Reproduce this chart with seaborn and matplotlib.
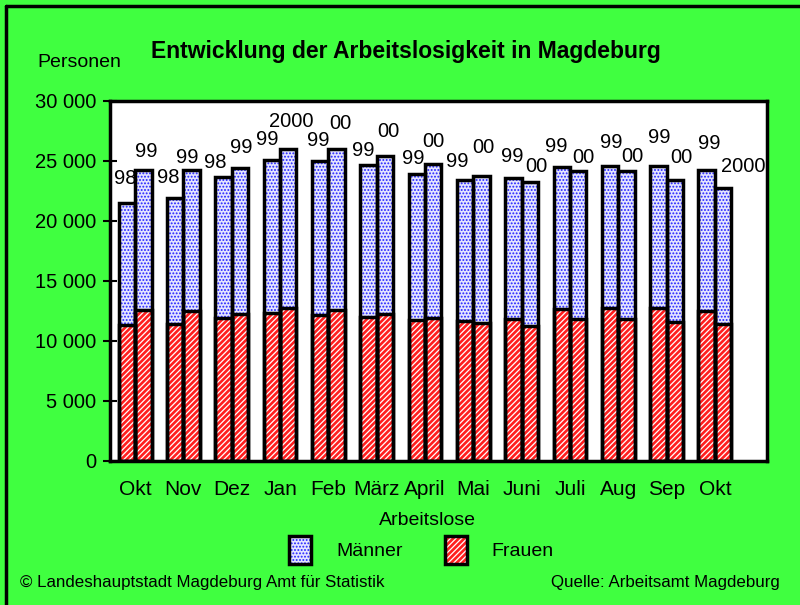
import pandas as pd
import seaborn as sns
import matplotlib.pyplot as plt
from matplotlib.patches import Patch, Rectangle
from matplotlib.lines import Line2D
from matplotlib.ticker import FuncFormatter, FixedLocator

# data (persons), two bars per month: previous year / current year
months = ['Okt', 'Nov', 'Dez', 'Jan', 'Feb', 'März', 'April', 'Mai', 'Juni', 'Juli', 'Aug', 'Sep', 'Okt']
year_a = ['98', '98', '98', '99', '99', '99', '99', '99', '99', '99', '99', '99', '99']
year_b = ['99', '99', '99', '2000', '00', '00', '00', '00', '00', '00', '00', '00', '2000']
frauen_a = [11300, 11380, 11880, 12270, 12130, 11990, 11710, 11630, 11790, 12600, 12730, 12760, 12490]
frauen_b = [12540, 12460, 12210, 12710, 12570, 12210, 11850, 11440, 11240, 11790, 11770, 11570, 11350]
maenner_a = [10200, 10520, 11720, 12780, 12820, 12660, 12190, 11720, 11760, 11850, 11820, 11790, 11710]
maenner_b = [11710, 11790, 12140, 13290, 13430, 13140, 12850, 12260, 11960, 12360, 12380, 11830, 11400]

# where the year labels sit relative to their bar top (pixels: right, up)
label_off_a = [(-2, 19), (-7, 15), (-8, 9), (-5, 15), (-2, 15), (-5, 9), (-4, 10),
               (-8, 13), (-1, 16), (-5, 15), (1, 18), (1, 23), (3, 21)]
label_off_b = [(3, 13), (-4, 7), (1, 15), (3, 22), (4, 20), (3, 19), (0, 17),
               (2, 23), (7, 10), (5, 8), (6, 9), (7, 17), (20, 16)]

green = '#40ff40'
blue_face = '#e4e4ff'
red_face = '#ff1f1f'

n = len(months)
df = pd.DataFrame({
    'idx': list(range(n)) * 2,
    'pos': ['a'] * n + ['b'] * n,
    'Frauen': frauen_a + frauen_b,
    'Maenner': maenner_a + maenner_b,
})
df['Gesamt'] = df['Frauen'] + df['Maenner']

sns.set_style('white')
plt.rcParams['font.family'] = ['Liberation Sans', 'DejaVu Sans']
plt.rcParams['text.color'] = 'black'
plt.rcParams['xtick.color'] = 'black'
plt.rcParams['ytick.color'] = 'black'
plt.rcParams['hatch.linewidth'] = 0.9

fig = plt.figure(figsize=(8, 6.05), dpi=100, facecolor=green)
ax = fig.add_axes([0.1375, 0.2385, 0.8213, 0.5951])
ax.set_facecolor('white')

# total bars (Männer on top of Frauen)
sns.barplot(data=df, x='idx', y='Gesamt', hue='pos', dodge=True, width=0.68, gap=0,
            palette={'a': blue_face, 'b': blue_face}, legend=False, ax=ax, saturation=1)
n_tot = len(ax.containers)
sns.barplot(data=df, x='idx', y='Frauen', hue='pos', dodge=True, width=0.68, gap=0,
            palette={'a': red_face, 'b': red_face}, legend=False, ax=ax, saturation=1)

for i, cont in enumerate(ax.containers):
    men = i < n_tot
    for p in cont:
        p.set_hatch('.....' if men else '//////')
        p.set_edgecolor('#2020ff' if men else 'white')
        p.set_linewidth(0)
        ax.add_patch(Rectangle(p.get_xy(), p.get_width(), p.get_height(), fill=False,
                               ec='black', lw=2.5, zorder=3))

# year labels above the bars
for cont, labels, offs in zip(ax.containers[:n_tot], [year_a, year_b], [label_off_a, label_off_b]):
    for p, lab, (dx, dy) in zip(cont, labels, offs):
        xc = p.get_x() + p.get_width() / 2
        ax.annotate(lab, (xc, p.get_height()), xytext=(dx * 0.72, dy * 0.72),
                    textcoords='offset points', ha='center', va='baseline',
                    fontsize=14.5, annotation_clip=False)

ax.set_xlim(-0.52, 13.08)
ax.set_ylim(0, 30000)
ax.set_yticks(range(0, 30001, 5000))
ax.yaxis.set_major_formatter(FuncFormatter(lambda v, _: f'{v:,.0f}'.replace(',', ' ')))
ax.set_xticks(range(n))
ax.set_xticklabels(months)
ax.xaxis.set_minor_locator(FixedLocator([k + 0.5 for k in range(n)]))
ax.tick_params(axis='x', which='major', length=0, pad=14, labelsize=15)
ax.tick_params(axis='x', which='minor', direction='inout', length=10, width=1, color='#404040')
ax.tick_params(axis='y', direction='inout', length=10, width=1.5, left=True, pad=5, labelsize=14.5)
ax.set_xlabel('')
ax.set_ylabel('')
for s in ax.spines.values():
    s.set_visible(True)
    s.set_color('black')
    s.set_linewidth(2.5)

# texts
fig.text(0.5075, 0.915, 'Entwicklung der Arbeitslosigkeit in Magdeburg', ha='center', va='center',
         fontsize=16.5, fontweight='bold')
fig.text(0.047, 0.8975, 'Personen', ha='left', va='center', fontsize=14)
fig.text(0.534, 0.14, 'Arbeitslose', ha='center', va='center', fontsize=14)
fig.text(0.025, 0.038, '© Landeshauptstadt Magdeburg Amt für Statistik', ha='left', va='center', fontsize=12.2)
fig.text(0.975, 0.038, 'Quelle: Arbeitsamt Magdeburg', ha='right', va='center', fontsize=12.2)

# legend
h_m = (Patch(facecolor=blue_face, edgecolor='#2020ff', hatch='.....', lw=0),
       Patch(facecolor='none', edgecolor='black', lw=2.5))
h_f = (Patch(facecolor=red_face, edgecolor='white', hatch='//////', lw=0),
       Patch(facecolor='none', edgecolor='black', lw=2.5))
fig.legend([h_m, h_f], ['Männer', 'Frauen'], loc='center', bbox_to_anchor=(0.527, 0.091),
           ncol=2, frameon=False, fontsize=14, handlelength=1.1, handleheight=1.85,
           handletextpad=1.3, columnspacing=2.2)

# frame lines along top and left edge of the picture
fig.add_artist(Line2D([0.0075, 1.0], [0.99, 0.99], color='black', lw=2.5))
fig.add_artist(Line2D([0.0075, 0.0075], [0.0, 0.99], color='black', lw=2.5))

fig.savefig('out.png', dpi=100, facecolor=green)
